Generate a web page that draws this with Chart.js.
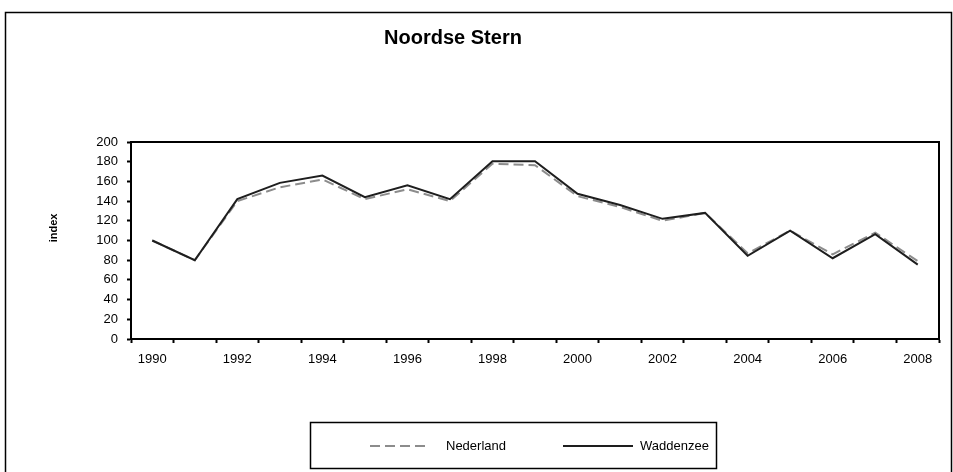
<!DOCTYPE html>
<html>
<head>
<meta charset="utf-8">
<script src="https://cdn.jsdelivr.net/npm/chart.js@4.4.0/dist/chart.umd.min.js"></script>
<style>
  body { margin: 0; background: #fff; }
  canvas { display: block; }
</style>
</head>
<body>
<canvas id="myChart" width="953" height="472"></canvas>
<script>
// data
const years = ['1990','1991','1992','1993','1994','1995','1996','1997','1998','1999',
               '2000','2001','2002','2003','2004','2005','2006','2007','2008'];
const nederland = [100, 80, 140, 154, 162, 142, 152, 140, 178, 176.5,
                   145, 134, 120, 128, 87, 110, 86, 108, 79];
const waddenzee = [100, 80, 142, 158.5, 166, 144, 156, 142, 180.5, 180.5,
                   147.5, 136, 122, 128, 84.5, 110, 82, 106.5, 75.5];
const yMin = 0, yMax = 200, yStep = 20;

const chartTitle = 'Noordse Stern';
const yTitle = 'index';
const font = '"Liberation Sans", Arial, sans-serif';

// frame, plot border, titles and the boxed legend
const extras = {
  id: 'extras',
  beforeDraw(chart) {
    const ctx = chart.ctx;
    ctx.save();
    ctx.fillStyle = '#fff';
    ctx.fillRect(0, 0, chart.width, chart.height);
    ctx.restore();
  },
  afterDraw(chart) {
    const ctx = chart.ctx;
    const ca = chart.chartArea;
    ctx.save();

    // outer frame
    ctx.strokeStyle = '#000';
    ctx.lineWidth = 1.5;
    ctx.beginPath();
    ctx.moveTo(5.5, 480);
    ctx.lineTo(5.5, 12.5);
    ctx.lineTo(951.5, 12.5);
    ctx.lineTo(951.5, 480);
    ctx.stroke();

    // plot area border
    ctx.lineWidth = 2;
    ctx.strokeRect(ca.left, ca.top, ca.right - ca.left, ca.bottom - ca.top);

    // title
    ctx.fillStyle = '#000';
    ctx.font = 'bold 20px ' + font;
    ctx.textAlign = 'center';
    ctx.textBaseline = 'alphabetic';
    ctx.fillText(chartTitle, 453, 44);

    // y axis title
    ctx.save();
    ctx.translate(54, 228);
    ctx.rotate(-Math.PI / 2);
    ctx.font = 'bold 11px ' + font;
    ctx.textBaseline = 'middle';
    ctx.fillText(yTitle, 0, 0);
    ctx.restore();

    // legend box
    ctx.lineWidth = 1.5;
    ctx.strokeRect(310.5, 422.5, 406, 46);

    const items = [
      { ds: chart.data.datasets[0], x0: 370, x1: 428, tx: 446 },
      { ds: chart.data.datasets[1], x0: 563, x1: 633, tx: 640 }
    ];
    ctx.font = '13px ' + font;
    ctx.textAlign = 'left';
    ctx.textBaseline = 'middle';
    items.forEach(function (it) {
      ctx.strokeStyle = it.ds.borderColor;
      ctx.lineWidth = it.ds.borderWidth;
      ctx.setLineDash(it.ds.borderDash || []);
      ctx.beginPath();
      ctx.moveTo(it.x0, 446);
      ctx.lineTo(it.x1, 446);
      ctx.stroke();
      ctx.setLineDash([]);
      ctx.fillStyle = '#000';
      ctx.fillText(it.ds.label, it.tx, 446);
    });

    ctx.restore();
  }
};

const ctx = document.getElementById('myChart').getContext('2d');
const myChart = new Chart(ctx, {
  type: 'line',
  data: {
    labels: years,
    datasets: [{
      label: 'Nederland',
      data: nederland,
      borderColor: '#8c8c8c',
      borderWidth: 2,
      borderDash: [10, 5],
      pointRadius: 0,
      tension: 0,
      fill: false,
      order: 1
    }, {
      label: 'Waddenzee',
      data: waddenzee,
      borderColor: '#1e1e1e',
      borderWidth: 2,
      pointRadius: 0,
      tension: 0,
      fill: false,
      order: 0
    }]
  },
  options: {
    responsive: false,
    animation: false,
    devicePixelRatio: 1,
    layout: { padding: { top: 142, right: 14, bottom: 0, left: 0 } },
    plugins: {
      legend: { display: false },
      title: { display: false },
      tooltip: { enabled: false }
    },
    scales: {
      x: {
        type: 'category',
        offset: true,
        afterFit: function (scale) { scale.height = 133; },
        grid: {
          offset: true,
          drawOnChartArea: false,
          drawTicks: true,
          tickLength: 4,
          tickWidth: 2,
          color: '#000'
        },
        border: { display: true, color: '#000', width: 2 },
        ticks: {
          autoSkip: false,
          maxRotation: 0,
          padding: 9,
          color: '#000',
          font: { family: font, size: 13 },
          callback: function (v, i) { return i % 2 === 0 ? years[i] : ''; }
        }
      },
      y: {
        min: yMin,
        max: yMax,
        afterFit: function (scale) { scale.width = 131; },
        grid: {
          drawOnChartArea: false,
          drawTicks: true,
          tickLength: 4,
          tickWidth: 2,
          color: '#000'
        },
        border: { display: true, color: '#000', width: 2 },
        ticks: {
          stepSize: yStep,
          padding: 9,
          color: '#000',
          font: { family: font, size: 13 }
        }
      }
    }
  },
  plugins: [extras]
});
</script>
</body>
</html>
